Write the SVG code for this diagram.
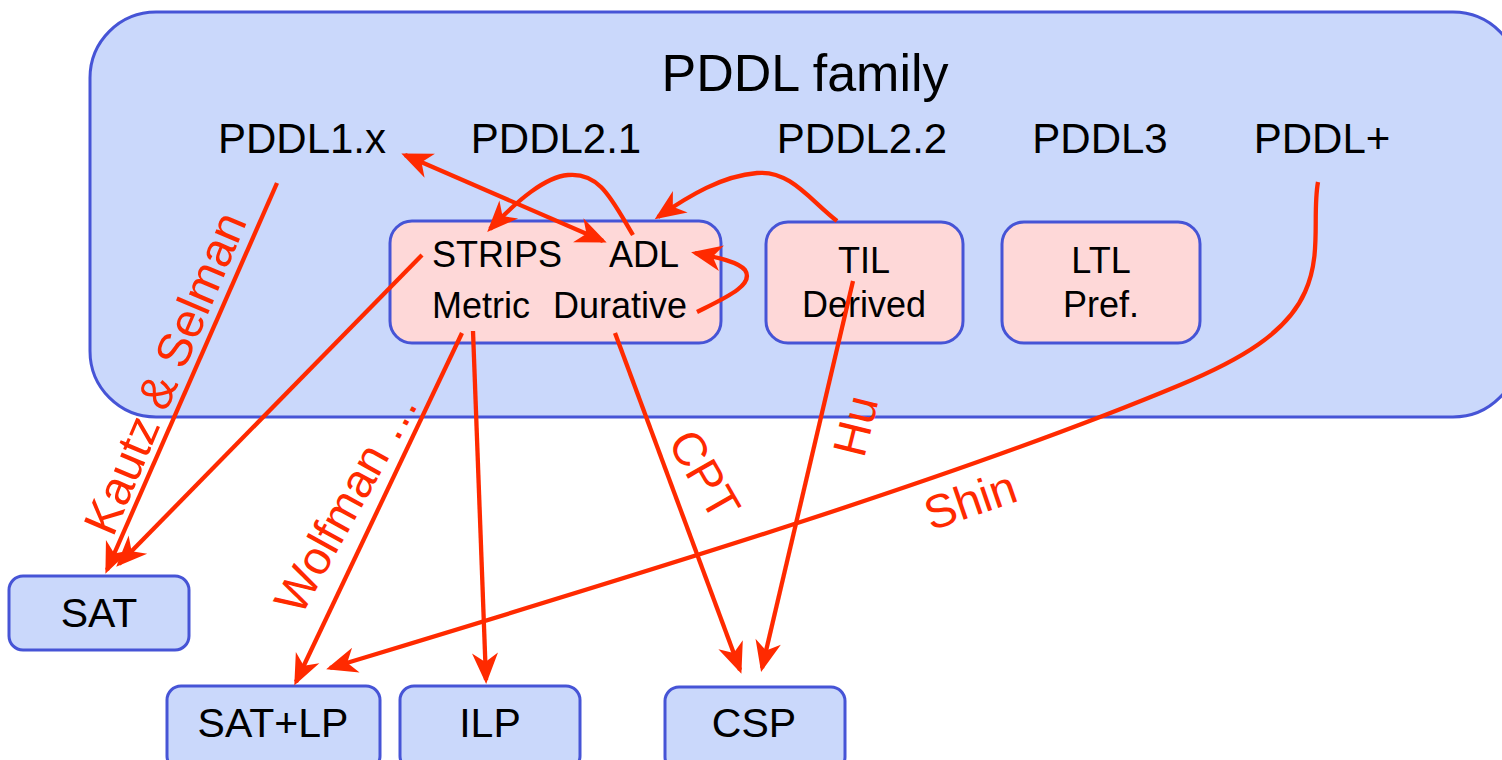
<svg xmlns="http://www.w3.org/2000/svg" width="1502" height="760" viewBox="0 0 1502 760">
<style>
.t{font-family:"Liberation Sans",Arial,sans-serif;fill:#000}
.lbl{font-family:"Liberation Sans",Arial,sans-serif;fill:#ff2a00;font-size:47px}
.outer{fill:#cad8fb;stroke:#4654d6;stroke-width:3}
.pink{fill:#fed8d8;stroke:#4654d6;stroke-width:3}
.blue{fill:#cad8fb;stroke:#4654d6;stroke-width:3}
.e{fill:none;stroke:#ff2a00;stroke-width:4.3;marker-end:url(#ah)}
</style>
<defs>
<marker id="ah" viewBox="-34 -16 38 32" markerWidth="38" markerHeight="32" refX="-4" refY="0" orient="auto-start-reverse" markerUnits="userSpaceOnUse">
<path d="M0,0 L-31,-13 L-22,0 L-31,13 Z" fill="#ff2a00"/>
</marker>
</defs>
<g id="pddl-family">
<rect class="outer" x="90" y="12" width="1429" height="405" rx="66"/>
<text class="t" x="805" y="91" font-size="52" text-anchor="middle">PDDL family</text>
<text class="t" x="302" y="153" font-size="42" text-anchor="middle">PDDL1.x</text>
<text class="t" x="556" y="153" font-size="42" text-anchor="middle">PDDL2.1</text>
<text class="t" x="862" y="153" font-size="42" text-anchor="middle">PDDL2.2</text>
<text class="t" x="1100" y="153" font-size="42" text-anchor="middle">PDDL3</text>
<text class="t" x="1322" y="153" font-size="42" text-anchor="middle">PDDL+</text>
</g>
<g id="pddl21">
<rect class="pink" x="390" y="221" width="331" height="122" rx="22"/>
<text class="t" x="432" y="267" font-size="36">STRIPS</text>
<text class="t" x="609" y="267" font-size="36">ADL</text>
<text class="t" x="432" y="318" font-size="36">Metric</text>
<text class="t" x="553" y="318" font-size="36">Durative</text>
</g>
<g id="pddl22">
<rect class="pink" x="766" y="222" width="197" height="121" rx="22"/>
<text class="t" x="864" y="273" font-size="36" text-anchor="middle">TIL</text>
<text class="t" x="864" y="317" font-size="36" text-anchor="middle">Derived</text>
</g>
<g id="pddl3">
<rect class="pink" x="1002" y="222" width="198" height="121" rx="22"/>
<text class="t" x="1101" y="273" font-size="36" text-anchor="middle">LTL</text>
<text class="t" x="1101" y="317" font-size="36" text-anchor="middle">Pref.</text>
</g>
<g id="sat">
<rect class="blue" x="9" y="576" width="180" height="74" rx="14"/>
<text class="t" x="99" y="627" font-size="41" text-anchor="middle">SAT</text>
</g>
<g id="satlp">
<rect class="blue" x="167" y="686" width="213" height="84" rx="14"/>
<text class="t" x="273" y="737" font-size="41" text-anchor="middle">SAT+LP</text>
</g>
<g id="ilp">
<rect class="blue" x="400" y="686" width="180" height="84" rx="14"/>
<text class="t" x="490" y="737" font-size="41" text-anchor="middle">ILP</text>
</g>
<g id="csp">
<rect class="blue" x="665" y="687" width="180" height="84" rx="14"/>
<text class="t" x="754" y="737" font-size="41" text-anchor="middle">CSP</text>
</g>
<g id="connectors">
<path class="e" d="M277,183 L107,570"/>
<path class="e" d="M422,255 L119,564"/>
<path class="e" style="marker-start:url(#ah)" d="M405,155 L603,241"/>
<path class="e" d="M633,235 C612,200 600,172 568,175 C545,177 518,200 490,229"/>
<path class="e" d="M837,221 C810,200 790,170 757,173 C722,176 690,195 658,217"/>
<path class="e" d="M697,312 C725,298 755,285 745,270 C738,262 720,258 695,253"/>
<path class="e" d="M462,333 L296,682"/>
<path class="e" d="M473,331 L486,680"/>
<path class="e" d="M615,333 L740,670"/>
<path class="e" d="M853,281 L762,668"/>
<path class="e" d="M1318,182 C1312,215 1322,255 1305,292 C1287,333 1240,360 1180,385 C950,481 620,580 330,668"/>
<text class="lbl" style="font-size:48px" transform="translate(113,538) rotate(-67)">Kautz &amp; Selman</text>
<text class="lbl" transform="translate(301,617) rotate(-61)">Wolfman …</text>
<text class="lbl" transform="translate(667,442) rotate(60)">CPT</text>
<text class="lbl" transform="translate(864,459) rotate(-76)">Hu</text>
<text class="lbl" transform="translate(931,531) rotate(-19)">Shin</text>
</g>
</svg>
